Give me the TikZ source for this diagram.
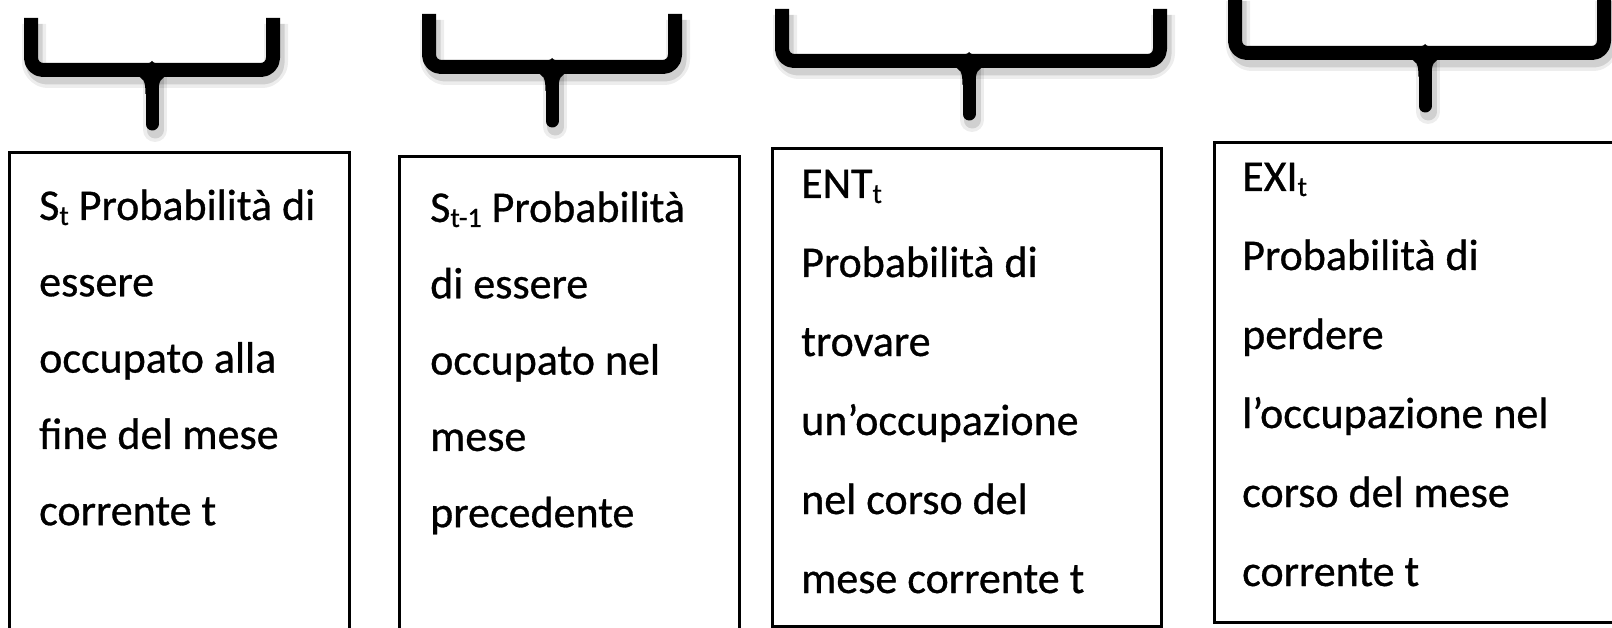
\documentclass[tikz,border=0pt]{standalone}
\usepackage{fontspec}
\setmainfont{Carlito}[FakeBold=0.7]
\newcommand\subsc[1]{\raisebox{-5pt}{\fontsize{28}{28}\selectfont #1}}
\tikzset{
  boxframe/.style={draw=black, line width=2.6pt, rectangle, inner sep=0pt, anchor=north west},
  bracestroke/.style={draw=black, line width=14pt, line cap=butt, line join=round, rounded corners=12pt},
  stemstroke/.style={draw=black, line width=13pt, line cap=round},
  shadowA/.style={draw=black, opacity=0.07, line width=24pt, line cap=butt, line join=round, rounded corners=14pt},
  shadowB/.style={draw=black, opacity=0.12, line width=17pt, line cap=butt, line join=round, rounded corners=13pt},
  txt/.style={anchor=base west, inner sep=0pt, font=\fontsize{44}{50}\selectfont}
}
% #1 xl, #2 xr, #3 xc, #4 top, #5 ybar, #6 yend
\newcommand\mybrace[6]{%
  \begin{scope}[shift={(3,6)}]
    \draw[shadowA] (#1,#4) -- (#1,#5) -- (#2,#5) -- (#2,#4);
    \draw[shadowA, line cap=round] (#3,#5) -- (#3,#6);
    \draw[shadowB] (#1,#4) -- (#1,#5) -- (#2,#5) -- (#2,#4);
    \draw[shadowB, line cap=round] (#3,#5) -- (#3,#6);
  \end{scope}
  \draw[bracestroke] (#1,#4) -- (#1,#5) -- (#2,#5) -- (#2,#4);
  \draw[stemstroke] (#3,#5) -- (#3,#6);
  \fill[black] (#3-18,#5) -- (#3-18,#5+6) .. controls (#3-8,#5+6) and (#3-6.5,#5+12) .. (#3-6.5,#5+24)
     -- (#3+6.5,#5+24) .. controls (#3+6.5,#5+12) and (#3+8,#5+6) .. (#3+18,#5+6) -- (#3+18,#5) -- cycle;
  \fill[black] (#3-12,#5-6) .. controls (#3-5,#5-6) and (#3-1,#5-7) .. (#3,#5-9)
     .. controls (#3+1,#5-7) and (#3+5,#5-6) .. (#3+12,#5-6) -- (#3+12,#5) -- (#3-12,#5) -- cycle;
}
\begin{document}
\begin{tikzpicture}[x=1pt, y=-1pt]
\useasboundingbox (0,0) rectangle (1612,628);
\fill[white] (0,0) rectangle (1612,628);

% braces
\mybrace{31}{273}{152}{18}{70}{124}
\mybrace{429}{675}{552}{14}{67}{121}
\mybrace{782}{1160}{969}{9}{61}{114}
\mybrace{1235}{1604}{1425}{-5}{53}{106}

% boxes
\node[boxframe, minimum width=340pt, minimum height=500pt] (b1) at (8,151) {};
\node[boxframe, minimum width=340pt, minimum height=500pt] (b2) at (398,155) {};
\node[boxframe, minimum width=389pt, minimum height=478pt] (b3) at (771,147) {};
\node[boxframe, minimum width=420pt, minimum height=480pt] (b4) at (1213,141) {};

% texts
\foreach \t [count=\i from 0] in {S\subsc{t} Probabilità di, essere, occupato alla, fine del mese, corrente t}
  \node[txt] (la-\i) at (39, 220+76.3*\i) {\t};
\foreach \t [count=\i from 0] in {S\subsc{t-1} Probabilità, di essere, occupato nel, mese, precedente}
  \node[txt] (lb-\i) at (430, 222+76.3*\i) {\t};
\foreach \t [count=\i from 0] in {ENT\subsc{t}, Probabilità di, trovare, un’occupazione, nel corso del, mese corrente t}
  \node[txt] (lc-\i) at (801, 198+79*\i) {\t};
\foreach \t [count=\i from 0] in {EXI\subsc{t}, Probabilità di, perdere, l’occupazione nel, corso del mese, corrente t}
  \node[txt] (ld-\i) at (1242, 191+79*\i) {\t};
\end{tikzpicture}
\end{document}
